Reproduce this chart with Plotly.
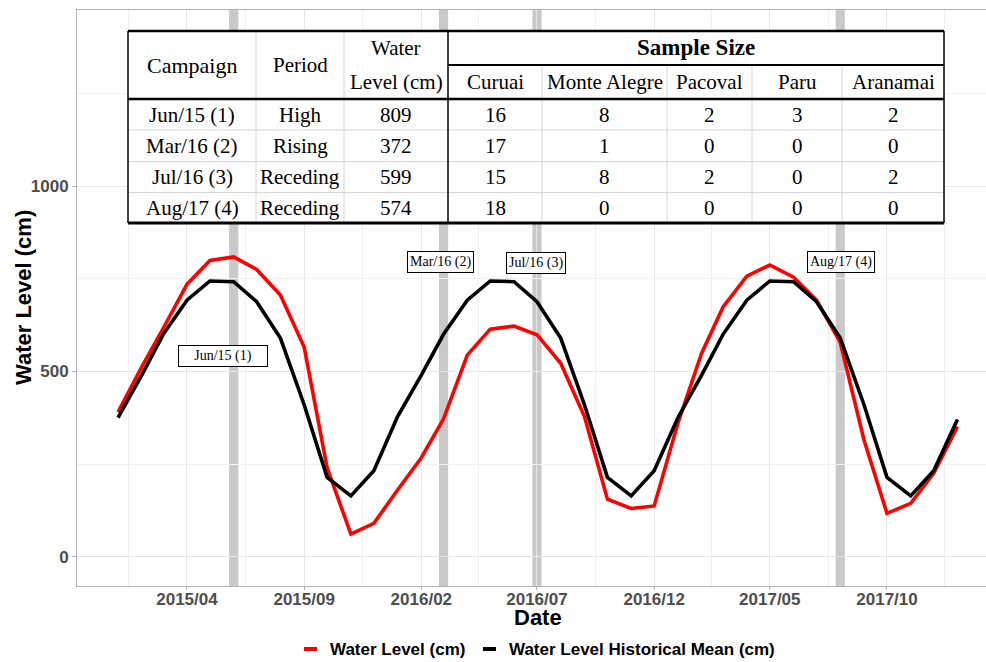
import plotly.graph_objects as go
import pandas as pd

# ---------------- data ----------------
months = [
    "2015-01-01", "2015-02-01", "2015-03-01", "2015-04-01", "2015-05-01", "2015-06-01",
    "2015-07-01", "2015-08-01", "2015-09-01", "2015-10-01", "2015-11-01", "2015-12-01",
    "2016-01-01", "2016-02-01", "2016-03-01", "2016-04-01", "2016-05-01", "2016-06-01",
    "2016-07-01", "2016-08-01", "2016-09-01", "2016-10-01", "2016-11-01", "2016-12-01",
    "2017-01-01", "2017-02-01", "2017-03-01", "2017-04-01", "2017-05-01", "2017-06-01",
    "2017-07-01", "2017-08-01", "2017-09-01", "2017-10-01", "2017-11-01", "2017-12-01",
    "2018-01-01",
]
water_level = [
    390, 512, 616, 735, 799, 809, 775, 706, 566, 240, 61, 90,
    180, 267, 372, 544, 614, 622, 599, 522, 378, 155, 130, 137,
    360, 549, 674, 757, 787, 754, 692, 578, 315, 117, 144, 225,
    351,
]
historical_mean = [
    375, 490, 600, 692, 744, 742, 688, 590, 410, 214, 164, 232,
    378, 490, 600, 692, 744, 742, 688, 590, 410, 214, 164, 232,
    375, 490, 600, 692, 744, 742, 688, 590, 410, 214, 164, 232,
    370,
]
series_names = ["Water Level (cm)", "Water Level Historical Mean (cm)"]
series_colors = ["#ff0000", "#000000"]

campaigns = ["Jun/15 (1)", "Mar/16 (2)", "Jul/16 (3)", "Aug/17 (4)"]
campaign_dates = ["2015-06-01", "2016-03-01", "2016-07-01", "2017-08-01"]
periods = ["High", "Rising", "Receding", "Receding"]
campaign_levels = [809, 372, 599, 574]
sites = ["Curuai", "Monte Alegre", "Pacoval", "Paru", "Aranamai"]
n_curuai = [16, 17, 15, 18]
n_monte_alegre = [8, 1, 8, 0]
n_pacoval = [2, 0, 2, 0]
n_paru = [3, 0, 0, 0]
n_aranamai = [2, 0, 2, 0]

x_tickvals = ["2015-04-01", "2015-09-01", "2016-02-01", "2016-07-01",
              "2016-12-01", "2017-05-01", "2017-10-01"]
x_ticktext = ["2015/04", "2015/09", "2016/02", "2016/07", "2016/12", "2017/05", "2017/10"]
y_tickvals = [0, 500, 1000]

# ---------------- layout helpers ----------------
W, H = 986, 662
L, R, T, B = 77, 0, 10, 76
PW = W - L - R
PH = H - T - B


def px(x):
    return (x - L) / PW


def py(y):
    return (H - B - y) / PH


SANS = "Liberation Sans, Arial, sans-serif"
SERIF = "Liberation Serif, Times New Roman, serif"

fig = go.Figure()
for name, ys, col in zip(series_names, [water_level, historical_mean], series_colors):
    fig.add_trace(go.Scatter(x=months, y=ys, mode="lines", name=name,
                             line=dict(color=col, width=3.6), showlegend=False))

shapes = []
# campaign bands
for d in campaign_dates:
    c = pd.Timestamp(d)
    shapes.append(dict(type="rect", xref="x", yref="paper",
                       x0=(c - pd.Timedelta(days=6)).strftime("%Y-%m-%d"),
                       x1=(c + pd.Timedelta(days=6)).strftime("%Y-%m-%d"),
                       y0=0, y1=1, fillcolor="#c9c9c9", line=dict(width=0), layer="between"))

# ---------------- table ----------------
col_edges = [128, 256, 344, 448, 542, 667, 752, 842, 944]
row_top, row_mid, row_head = 31, 65, 99
row_edges = [99, 130, 161.5, 192.5, 223]
tbl_bottom = 223

shapes.append(dict(type="rect", xref="paper", yref="paper",
                   x0=px(col_edges[0]), x1=px(col_edges[-1]),
                   y0=py(tbl_bottom), y1=py(row_top),
                   fillcolor="white", line=dict(width=0), layer="above"))


def hline(x0, x1, y, color, w):
    shapes.append(dict(type="line", xref="paper", yref="paper",
                       x0=px(x0), x1=px(x1), y0=py(y), y1=py(y),
                       line=dict(color=color, width=w), layer="above"))


def vline(x, y0, y1, color, w):
    shapes.append(dict(type="line", xref="paper", yref="paper",
                       x0=px(x), x1=px(x), y0=py(y0), y1=py(y1),
                       line=dict(color=color, width=w), layer="above"))


GRAY = "#d4d4d4"
for y in row_edges[1:-1]:
    hline(col_edges[0], col_edges[-1], y, GRAY, 1)
for x in col_edges[1:3]:
    vline(x, row_top, tbl_bottom, GRAY, 1)
for x in col_edges[4:-1]:
    vline(x, row_mid, tbl_bottom, GRAY, 1)
vline(col_edges[0], row_top, tbl_bottom, "black", 1.5)
vline(col_edges[3], row_top, tbl_bottom, "black", 1.5)
vline(col_edges[-1], row_top, tbl_bottom, "black", 1.5)
hline(col_edges[3], col_edges[-1], row_mid, "black", 2)
hline(col_edges[0], col_edges[-1], row_top, "black", 2.5)
hline(col_edges[0], col_edges[-1], row_head, "black", 2.5)
hline(col_edges[0], col_edges[-1], tbl_bottom, "black", 3)

annotations = []


def cell(text, xc, yc, size=21, bold=False):
    annotations.append(dict(text=text, xref="paper", yref="paper", x=px(xc), y=py(yc),
                            xanchor="center", yanchor="middle", showarrow=False,
                            font=dict(family=SERIF, size=size, color="black",
                                      weight="bold" if bold else "normal")))


def mid(a, b):
    return (a + b) / 2


cell("Campaign", mid(col_edges[0], col_edges[1]), mid(row_top, row_head), 22)
cell("Period", mid(col_edges[1], col_edges[2]), mid(row_top, row_head), 21)
cell("Water", mid(col_edges[2], col_edges[3]), 48, 21)
cell("Level (cm)", mid(col_edges[2], col_edges[3]), 82, 21)
cell("Sample Size", mid(col_edges[3], col_edges[-1]), mid(row_top, row_mid), 23, bold=True)
for i, s in enumerate(sites):
    cell(s, mid(col_edges[3 + i], col_edges[4 + i]), mid(row_mid, row_head), 21)

table_cols = [campaigns, periods, campaign_levels,
              n_curuai, n_monte_alegre, n_pacoval, n_paru, n_aranamai]
for j, colvals in enumerate(table_cols):
    for i, v in enumerate(colvals):
        cell(str(v), mid(col_edges[j], col_edges[j + 1]),
             mid(row_edges[i], row_edges[i + 1]), 21)

# ---------------- campaign labels ----------------
label_pos = [("2015-05-18", 541), ("2016-02-26", 794), ("2016-06-30", 792), ("2017-08-02", 796)]
for txt, (lx, ly) in zip(campaigns, label_pos):
    a = dict(text=txt, x=lx, y=ly, xref="x", yref="y", showarrow=False,
             xanchor="center", yanchor="middle",
             font=dict(family=SERIF, size=14, color="black"),
             bgcolor="white", bordercolor="black", borderwidth=1, borderpad=2)
    if txt.startswith("Jun"):
        a["width"] = 84
    annotations.append(a)

# axis titles
annotations.append(dict(text="Date", xref="paper", yref="paper", x=px(538), y=py(617),
                        xanchor="center", yanchor="middle", showarrow=False,
                        font=dict(family=SANS, size=22, color="black", weight="bold")))
annotations.append(dict(text="Water Level (cm)", xref="paper", yref="paper", x=px(23),
                        y=py(298), xanchor="center", yanchor="middle", showarrow=False,
                        textangle=-90,
                        font=dict(family=SANS, size=22, color="black", weight="bold")))

# legend (drawn manually, bottom centre)
legend_keys = [(304, 317, 328), (483, 496, 507)]
for name, col, (k0, k1, tx) in zip(series_names, series_colors, legend_keys):
    shapes.append(dict(type="line", xref="paper", yref="paper",
                       x0=px(k0), x1=px(k1), y0=py(649), y1=py(649),
                       line=dict(color=col, width=4)))
    annotations.append(dict(text=name, xref="paper", yref="paper", x=px(tx), y=py(649),
                            xanchor="left", yanchor="middle", showarrow=False,
                            font=dict(family=SANS, size=17, color="black", weight="bold")))

# minor x grid midway between major breaks
major = [pd.Timestamp("2014-11-01")] + [pd.Timestamp(t) for t in x_tickvals] + [pd.Timestamp("2018-03-01")]
minor_x = [(major[k] + (major[k + 1] - major[k]) / 2).strftime("%Y-%m-%d") for k in range(len(major) - 1)]

fig.update_layout(
    width=W, height=H,
    margin=dict(l=L, r=R, t=T, b=B, autoexpand=False),
    paper_bgcolor="white", plot_bgcolor="white",
    shapes=shapes, annotations=annotations,
    showlegend=False,
    xaxis=dict(type="date", range=["2014-11-08 10:00", "2018-02-07 07:00"],
               tickmode="array", tickvals=x_tickvals, ticktext=x_ticktext,
               tickfont=dict(family=SANS, size=17, color="#4d4d4d", weight="bold"),
               ticks="outside", ticklen=3, tickcolor="#b3b3b3", ticklabelstandoff=-5,
               showgrid=True, gridcolor="#e6e6e6", gridwidth=1,
               minor=dict(tickmode="array", tickvals=minor_x, showgrid=True,
                          gridcolor="#f0f0f0", gridwidth=1, ticks=""),
               showline=True, linecolor="#b3b3b3", linewidth=1, mirror=True,
               zeroline=False, fixedrange=True),
    yaxis=dict(range=[-79, 1475], tickmode="array", tickvals=y_tickvals,
               tickfont=dict(family=SANS, size=17, color="#4d4d4d", weight="bold"),
               ticks="outside", ticklen=4, tickcolor="#b3b3b3",
               showgrid=True, gridcolor="#e6e6e6", gridwidth=1,
               minor=dict(tickmode="linear", tick0=250, dtick=500, showgrid=True,
                          gridcolor="#f0f0f0", gridwidth=1, ticks=""),
               showline=True, linecolor="#b3b3b3", linewidth=1, mirror=False,
               zeroline=False, fixedrange=True),
)

fig.write_html("out.html")
